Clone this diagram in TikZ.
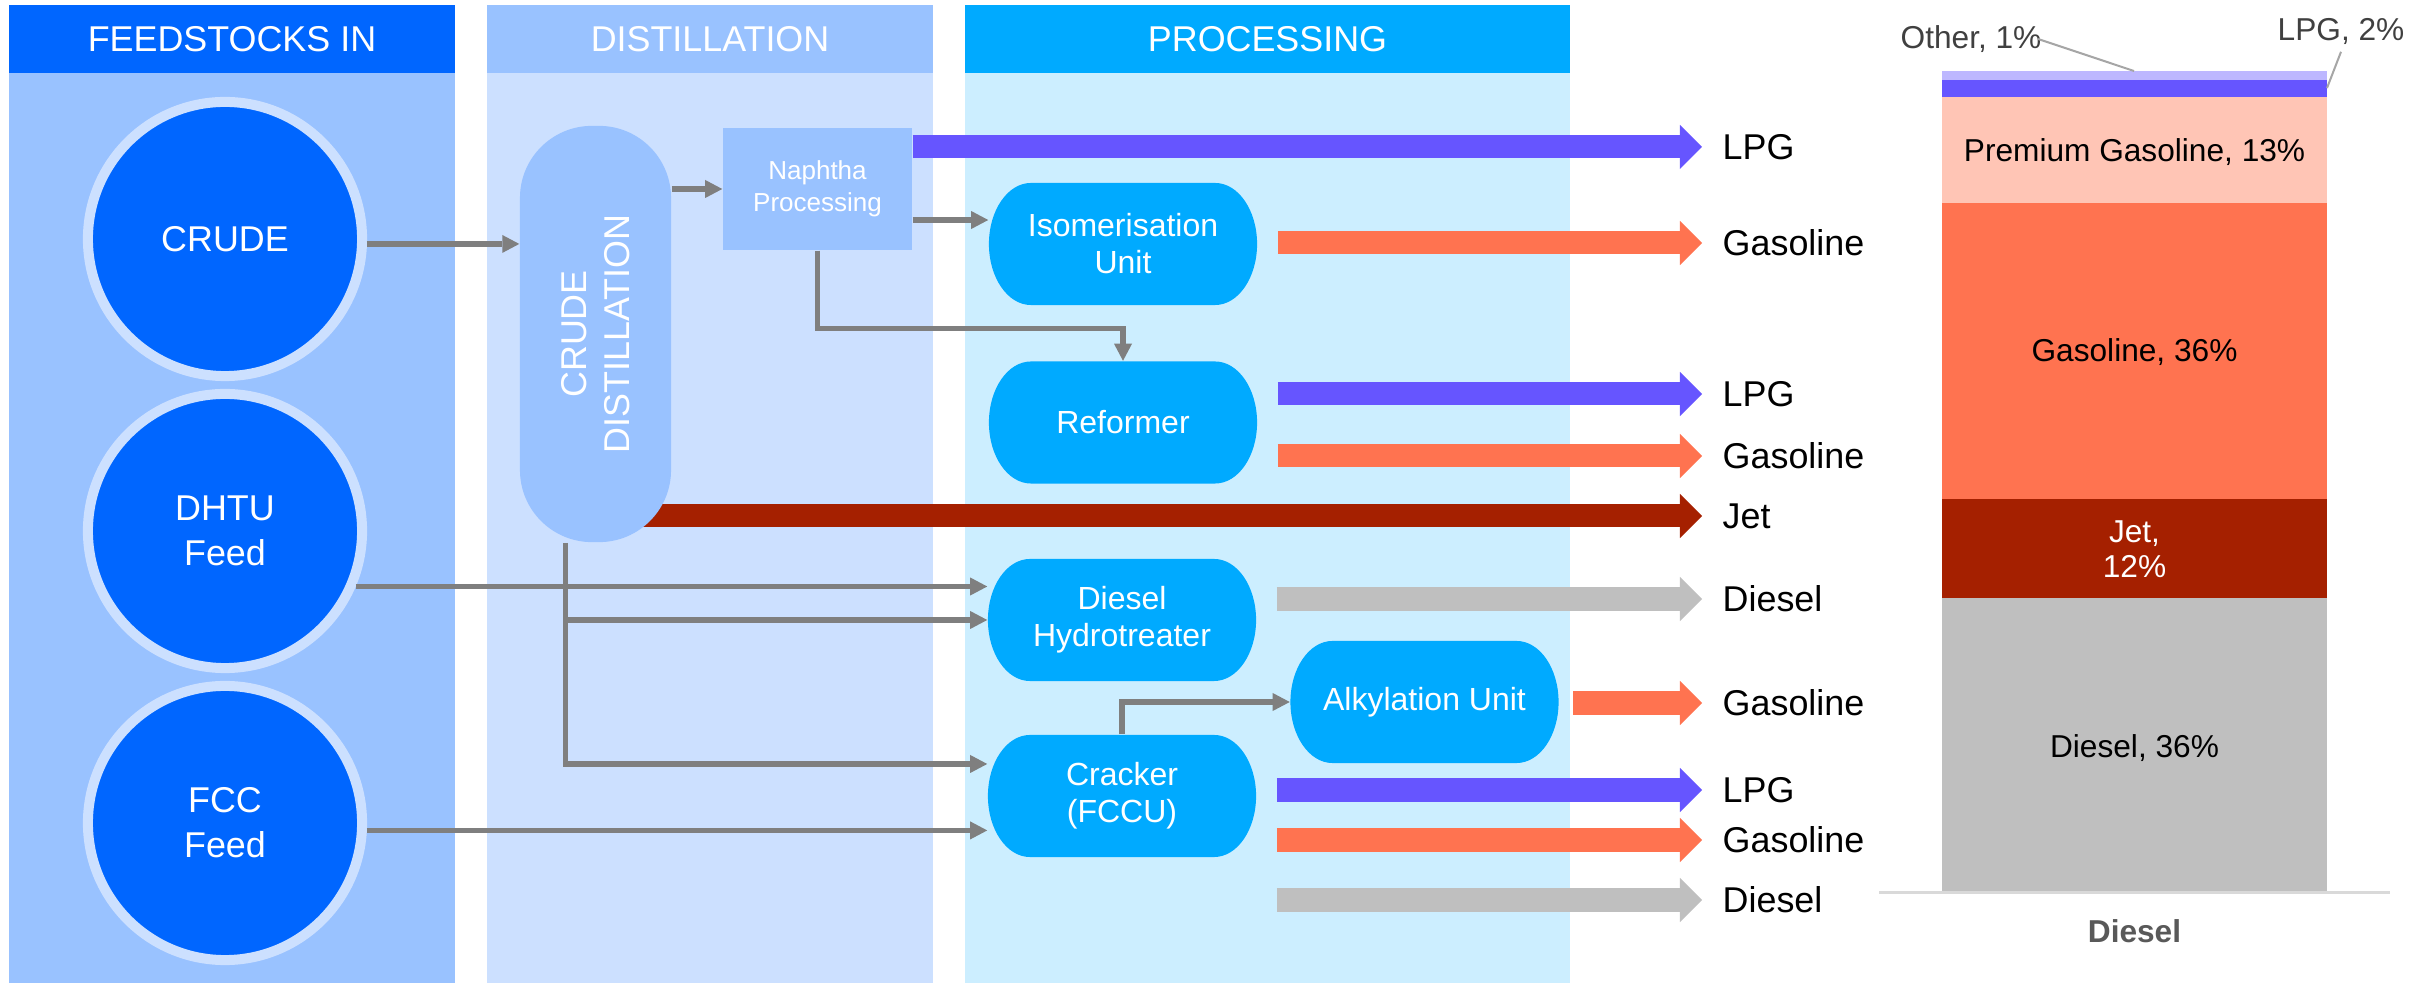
\documentclass[tikz,border=0pt]{standalone}
\usepackage{fontspec}
\setmainfont{Liberation Sans}
\usetikzlibrary{arrows.meta}

\definecolor{feedblue}{HTML}{0066FF}
\definecolor{feedbody}{HTML}{99C2FF}
\definecolor{distbody}{HTML}{CCE0FF}
\definecolor{procblue}{HTML}{00AAFF}
\definecolor{procbody}{HTML}{CCEEFF}
\definecolor{pipegray}{HTML}{7F7F7F}
\definecolor{lpgcol}{HTML}{6655FF}
\definecolor{gascol}{HTML}{FF7350}
\definecolor{jetcol}{HTML}{A52000}
\definecolor{dslcol}{HTML}{BFBFBF}
\definecolor{premcol}{HTML}{FFC5B5}
\definecolor{othercol}{HTML}{BDB7FF}
\definecolor{chartgray}{HTML}{404040}
\definecolor{catgray}{HTML}{595959}
\definecolor{leadgray}{HTML}{A6A6A6}
\definecolor{axisgray}{HTML}{D9D9D9}

\newcommand{\hdrfont}{\fontsize{10.2}{12.3}\selectfont}
\newcommand{\circfont}{\fontsize{10.2}{12.8}\selectfont}
\newcommand{\colfont}{\fontsize{10.2}{12.2}\selectfont}
\newcommand{\unitfont}{\fontsize{9.1}{10.5}\selectfont}
\newcommand{\napfont}{\fontsize{7.4}{9}\selectfont}
\newcommand{\chartfont}{\fontsize{9}{10}\selectfont}

\tikzset{
    header/.style={text=white, font=\hdrfont, minimum height=0.68cm, inner sep=0pt},
    feedstock/.style={circle, fill=feedblue, draw=distbody, line width=0.1cm, minimum size=2.74cm,
        inner sep=0pt, text=white, align=center, font=\circfont},
    column/.style={fill=feedbody, minimum width=1.51cm, minimum height=4.16cm, rounded corners=0.72cm, inner sep=0pt},
    coltext/.style={text=white, align=center, font=\colfont, inner sep=0pt},
    naphthabox/.style={fill=feedbody, minimum width=1.89cm, minimum height=1.22cm, inner sep=0pt,
        text=white, align=center, font=\napfont},
    unit/.style={fill=procbody, minimum width=2.68cm, minimum height=1.22cm, inner sep=0pt,
        text=white, align=center, font=\unitfont,
        path picture={\fill[procblue] ([xshift=0.42cm]path picture bounding box.north west)
            -- ([xshift=-0.42cm]path picture bounding box.north east)
            arc[start angle=90, end angle=0, x radius=0.42cm, y radius=0.61cm]
            arc[start angle=0, end angle=-90, x radius=0.42cm, y radius=0.61cm]
            -- ([xshift=0.42cm]path picture bounding box.south west)
            arc[start angle=270, end angle=180, x radius=0.42cm, y radius=0.61cm]
            arc[start angle=180, end angle=90, x radius=0.42cm, y radius=0.61cm] -- cycle;}},
    pipe/.style={draw=pipegray, line width=0.055cm, -{Triangle[length=0.17cm, width=0.18cm, line width=0pt]}},
    flow/.style={line width=0.23cm, -{Triangle[length=0.22cm, width=0.44cm, line width=0pt]}},
    outlabel/.style={anchor=west, inner sep=0pt, font=\hdrfont},
    barlabel/.style={font=\chartfont, align=center, inner sep=0pt},
    leader/.style={draw=leadgray, line width=0.02cm}
}

\begin{document}
\begin{tikzpicture}[x=0.01cm, y=-0.01cm]
    \useasboundingbox (0,0) rectangle (2418,983);

    % panels
    \fill[feedbody] (9,73) rectangle (455,983);
    \fill[distbody] (487,73) rectangle (933,983);
    \fill[procbody] (965,73) rectangle (1570,983);
    \node[header, fill=feedblue, minimum width=4.46cm] (hfeed) at (232,39) {FEEDSTOCKS IN};
    \node[header, fill=feedbody, minimum width=4.46cm] (hdist) at (710,39) {DISTILLATION};
    \node[header, fill=procblue, minimum width=6.05cm] (hproc) at (1267.5,39) {PROCESSING};

    % product labels
    \node[outlabel] (lpgA) at (1722,147) {LPG};
    \node[outlabel] (gasA) at (1722,243) {Gasoline};
    \node[outlabel] (lpgB) at (1722,394) {LPG};
    \node[outlabel] (gasB) at (1722,456) {Gasoline};
    \node[outlabel] (jet) at (1722,516) {Jet};
    \node[outlabel] (dslA) at (1722,599) {Diesel};
    \node[outlabel] (gasC) at (1722,703) {Gasoline};
    \node[outlabel] (lpgC) at (1722,790) {LPG};
    \node[outlabel] (gasD) at (1722,840) {Gasoline};
    \node[outlabel] (dslB) at (1722,900) {Diesel};

    % jet leaves the column from behind
    \coordinate (jetstart) at (600,516);
    \draw[flow, jetcol] (jetstart) -- ([xshift=-0.2cm]jet.west);

    % feedstocks
    \node[feedstock] (crude) at (225,239) {CRUDE};
    \node[feedstock] (dhtu) at (225,531) {DHTU\\Feed};
    \node[feedstock] (fcc) at (225,823) {FCC\\Feed};

    % distillation
    \node[column] (cdu) at (595.5,334) {};
    \node[coltext, rotate=90] (cdutext) at (cdu) {CRUDE\\DISTILLATION};
    \node[naphthabox] (naphtha) at (817.5,189) {Naphtha\\Processing};

    % processing units
    \node[unit] (iso) at (1123,244) {Isomerisation\\Unit};
    \node[unit] (reformer) at (1123,422.5) {Reformer};
    \node[unit] (dht) at (1122,620) {Diesel\\Hydrotreater};
    \node[unit] (alky) at (1424.5,702) {Alkylation Unit};
    \node[unit] (fccu) at (1122,796) {Cracker\\(FCCU)};

    % pipes
    \draw[pipe] (crude.-2) -- (crude.-2 -| cdu.west);
    \draw[pipe] (naphtha.west -| cdu.east) -- (naphtha.west);
    \draw[pipe] ([yshift=-0.31cm]naphtha.east) -- ([yshift=-0.31cm]naphtha.east -| iso.west);
    \draw[pipe] (naphtha.south) -- ++(0,78) -| (reformer.north);
    \draw[pipe] (dhtu.-23) -- (dhtu.-23 -| dht.west);
    \draw[pipe] ([xshift=-0.3cm]cdu.south) |- ([yshift=0.32cm]fccu.west);
    \draw[pipe] ([xshift=-0.3cm]cdu.south |- dht.west) -- (dht.west);
    \draw[pipe] (fcc.-3) -- (fcc.-3 -| fccu.west);
    \draw[pipe] (fccu.north) |- (alky.west);

    % products
    \draw[flow, lpgcol] (naphtha.east |- lpgA) -- ([xshift=-0.2cm]lpgA.west);
    \draw[flow, gascol] ([xshift=0.2cm]iso.east |- gasA) -- ([xshift=-0.2cm]gasA.west);
    \draw[flow, lpgcol] ([xshift=0.2cm]reformer.east |- lpgB) -- ([xshift=-0.2cm]lpgB.west);
    \draw[flow, gascol] ([xshift=0.2cm]reformer.east |- gasB) -- ([xshift=-0.2cm]gasB.west);
    \draw[flow, dslcol] ([xshift=0.2cm]dht.east |- dslA) -- ([xshift=-0.2cm]dslA.west);
    \draw[flow, gascol] ([xshift=0.14cm]alky.east |- gasC) -- ([xshift=-0.2cm]gasC.west);
    \draw[flow, lpgcol] ([xshift=0.2cm]fccu.east |- lpgC) -- ([xshift=-0.2cm]lpgC.west);
    \draw[flow, gascol] ([xshift=0.2cm]fccu.east |- gasD) -- ([xshift=-0.2cm]gasD.west);
    \draw[flow, dslcol] ([xshift=0.2cm]fccu.east |- dslB) -- ([xshift=-0.2cm]dslB.west);

    % stacked bar
    \fill[othercol] (1942,71) rectangle (2327,80);
    \fill[lpgcol] (1942,80) rectangle (2327,97);
    \fill[premcol] (1942,97) rectangle (2327,203);
    \fill[gascol] (1942,203) rectangle (2327,499);
    \fill[jetcol] (1942,499) rectangle (2327,598);
    \fill[dslcol] (1942,598) rectangle (2327,892);
    \draw[axisgray, line width=0.03cm] (1879,893) -- (2390,893);

    \node[barlabel] (premlbl) at (2134.5,152) {Premium Gasoline, 13\%};
    \node[barlabel] (gaslbl) at (2134.5,352) {Gasoline, 36\%};
    \node[barlabel, text=white] (jetlbl) at (2134.5,549) {Jet,\\12\%};
    \node[barlabel] (dsllbl) at (2134.5,748) {Diesel, 36\%};
    \node[font=\chartfont\bfseries, text=catgray] (catlbl) at (2134.5,931) {Diesel};
    \node[barlabel, text=chartgray] (otherlbl) at (1971,39) {Other, 1\%};
    \node[barlabel, text=chartgray] (lpglbl) at (2341,31) {LPG, 2\%};
    \coordinate (othertip) at (2134,71);
    \coordinate (lpgtip) at (2327,88);
    \draw[leader] ([xshift=-0.04cm]otherlbl.east) -- (othertip);
    \draw[leader] ([yshift=-0.07cm]lpglbl.south) -- (lpgtip);
\end{tikzpicture}
\end{document}
